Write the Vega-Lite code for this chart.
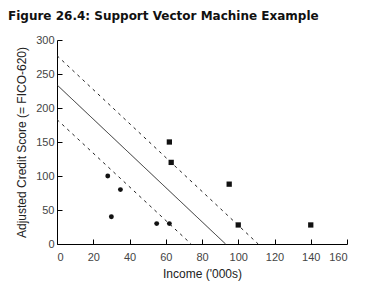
{
  "$schema": "https://vega.github.io/schema/vega-lite/v6.json",
  "width": 290,
  "height": 204,
  "autosize": {"type": "none"},
  "padding": {"left": 57, "top": 40, "right": 29, "bottom": 37},
  "background": "white",
  "title": {
    "text": "Figure 26.4: Support Vector Machine Example",
    "anchor": "start",
    "frame": "group",
    "dx": -49,
    "offset": 11,
    "font": "DejaVu Sans",
    "fontSize": 12,
    "fontWeight": "bold",
    "color": "#111"
  },
  "config": {
    "view": {"stroke": null},
    "axis": {
      "grid": false,
      "domainColor": "#000",
      "tickColor": "#000",
      "domainWidth": 1,
      "tickWidth": 1,
      "tickSize": -5,
      "labelFont": "Liberation Sans",
      "labelFontSize": 11,
      "labelColor": "#444",
      "titleFont": "Liberation Sans",
      "titleFontSize": 12,
      "titleFontWeight": "normal",
      "titleColor": "#222"
    }
  },
  "datasets": {
    "pts": [
      {"income": 28, "score": 100, "cls": "circle"},
      {"income": 35, "score": 80, "cls": "circle"},
      {"income": 30, "score": 40, "cls": "circle"},
      {"income": 55, "score": 30, "cls": "circle"},
      {"income": 62, "score": 30, "cls": "circle"},
      {"income": 62, "score": 150, "cls": "square"},
      {"income": 63, "score": 120, "cls": "square"},
      {"income": 95, "score": 88, "cls": "square"},
      {"income": 100, "score": 28, "cls": "square"},
      {"income": 140, "score": 28, "cls": "square"}
    ],
    "lines": [
      {"income": 0, "score": 277, "line": "upper", "style": "dashed"},
      {"income": 111, "score": 0, "line": "upper", "style": "dashed"},
      {"income": 0, "score": 234, "line": "mid", "style": "solid"},
      {"income": 93, "score": 0, "line": "mid", "style": "solid"},
      {"income": 0, "score": 183, "line": "lower", "style": "dashed"},
      {"income": 74, "score": 0, "line": "lower", "style": "dashed"}
    ]
  },
  "encoding": {
    "x": {
      "field": "income",
      "type": "quantitative",
      "scale": {"domain": [0, 160], "nice": false},
      "axis": {"values": [0, 20, 40, 60, 80, 100, 120, 140, 160], "title": "Income ('000s)", "labelPadding": 12, "titlePadding": 6}
    },
    "y": {
      "field": "score",
      "type": "quantitative",
      "scale": {"domain": [0, 300], "nice": false},
      "axis": {"values": [0, 50, 100, 150, 200, 250, 300], "title": "Adjusted Credit Score (= FICO-620)", "labelPadding": 8, "titlePadding": 7}
    }
  },
  "layer": [
    {
      "data": {"name": "lines"},
      "mark": {"type": "line", "color": "#222", "strokeWidth": 1},
      "encoding": {
        "detail": {"field": "line"},
        "strokeDash": {
          "field": "style",
          "type": "nominal",
          "scale": {"domain": ["solid", "dashed"], "range": [[1, 0], [3, 4]]},
          "legend": null
        }
      }
    },
    {
      "data": {"name": "pts"},
      "mark": {"type": "point", "filled": true, "color": "#111", "opacity": 1},
      "encoding": {
        "shape": {
          "field": "cls",
          "type": "nominal",
          "scale": {"domain": ["circle", "square"], "range": ["circle", "square"]},
          "legend": null
        },
        "size": {
          "field": "cls",
          "type": "nominal",
          "scale": {"domain": ["circle", "square"], "range": [24, 28]},
          "legend": null
        }
      }
    }
  ]
}
